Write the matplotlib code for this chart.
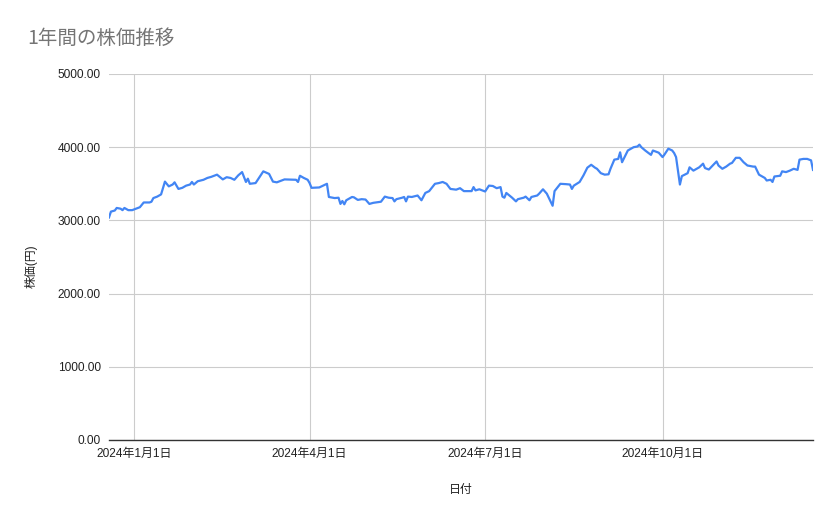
import pandas as pd
import matplotlib
matplotlib.use('Agg')
import matplotlib.pyplot as plt
import matplotlib.dates as mdates
from matplotlib.ticker import FuncFormatter, MultipleLocator

plt.rcParams['font.family'] = ['Liberation Sans', 'Noto Sans CJK JP']

# days counted from 2024-01-01
dayOffsets = [
    -13, -12, -10, -9, -7, -6, -5, -3, -1, 1, 3, 5, 8, 9, 10, 12, 14, 16, 18, 20,
    21, 23, 25, 27, 29, 30, 31, 33, 36, 38, 40, 43, 46, 48, 50, 52, 54, 56, 58, 59,
    60, 63, 65, 67, 70, 72, 74, 78, 84, 85, 86, 88, 90, 91, 92, 96, 98, 100, 101, 104,
    106, 107, 108, 109, 110, 113, 114, 116, 118, 120, 122, 124, 128, 130, 132, 134, 135, 136, 139, 140,
    141, 142, 144, 147, 149, 151, 153, 156, 158, 160, 162, 164, 167, 169, 171, 173, 175, 176, 177, 179,
    182, 184, 186, 188, 190, 191, 192, 193, 196, 198, 199, 202, 203, 205, 206, 209, 210, 212, 214, 217,
    218, 221, 224, 226, 227, 228, 231, 233, 235, 237, 239, 240, 242, 244, 246, 247, 249, 251, 252, 253,
    255, 256, 259, 261, 262, 263, 265, 268, 269, 272, 274, 275, 277, 279, 280, 281, 283, 284, 287, 288,
    290, 293, 295, 296, 298, 300, 302, 303, 305, 307, 309, 310, 312, 314, 316, 318, 321, 322, 324, 327,
    328, 330, 331, 332, 335, 336, 338, 340, 342, 344, 345, 347, 349, 351, 352,
]
prices = [
    3040, 3120, 3135, 3170, 3160, 3140, 3170, 3140, 3140, 3160, 3180, 3245, 3245, 3255, 3305, 3325, 3355, 3530, 3465, 3490,
    3520, 3430, 3445, 3475, 3490, 3525, 3490, 3535, 3555, 3580, 3595, 3625, 3560, 3590, 3580, 3555, 3615, 3660, 3525, 3570,
    3500, 3510, 3590, 3670, 3635, 3530, 3520, 3560, 3555, 3525, 3610, 3580, 3555, 3510, 3445, 3450, 3475, 3500, 3320, 3305,
    3310, 3225, 3265, 3220, 3275, 3320, 3315, 3280, 3290, 3285, 3225, 3240, 3255, 3325, 3310, 3305, 3260, 3290, 3310, 3320,
    3260, 3325, 3320, 3340, 3275, 3375, 3400, 3500, 3510, 3525, 3500, 3430, 3420, 3440, 3400, 3400, 3400, 3455, 3410, 3425,
    3395, 3475, 3470, 3440, 3455, 3325, 3310, 3375, 3310, 3260, 3290, 3310, 3325, 3275, 3320, 3340, 3365, 3425, 3365, 3200,
    3400, 3500, 3495, 3490, 3430, 3475, 3525, 3615, 3720, 3760, 3720, 3705, 3645, 3625, 3630, 3705, 3830, 3840, 3930, 3795,
    3900, 3955, 4000, 4010, 4035, 4000, 3955, 3895, 3955, 3925, 3865, 3900, 3980, 3955, 3920, 3865, 3490, 3605, 3645, 3725,
    3680, 3725, 3775, 3715, 3695, 3750, 3805, 3750, 3705, 3735, 3775, 3785, 3855, 3855, 3795, 3750, 3735, 3735, 3625, 3580,
    3545, 3555, 3525, 3600, 3610, 3670, 3660, 3680, 3705, 3690, 3830, 3840, 3840, 3820, 3690,
]
tickDates = ['2024-01-01', '2024-04-01', '2024-07-01', '2024-10-01']
yTicks = [0, 1000, 2000, 3000, 4000, 5000]

dates = pd.Timestamp('2024-01-01') + pd.to_timedelta(dayOffsets, unit='D')
ticks = pd.to_datetime(tickDates)

fig = plt.figure(figsize=(8.39, 5.19), dpi=100)
ax = fig.add_axes([109 / 839, 1 - 440 / 519, (813 - 109) / 839, (440 - 74) / 519])

ax.plot(dates, prices, color='#4285f4', linewidth=1.6, solid_joinstyle='round')

ax.set_xlim(dates[0], dates[-1])
ax.set_ylim(0, 5000)
ax.set_yticks(yTicks)
ax.yaxis.set_major_formatter(FuncFormatter(lambda v, p: f'{v:.2f}'))
ax.set_xticks(ticks)
ax.set_xticklabels([f'{d.year}年{d.month}月{d.day}日' for d in ticks])

ax.grid(True, color='#cccccc', linewidth=0.8)
ax.set_axisbelow(True)
for s in ['top', 'right', 'left']:
    ax.spines[s].set_visible(False)
ax.spines['bottom'].set_color('#333333')
ax.spines['bottom'].set_linewidth(1.0)
ax.spines['bottom'].set_zorder(3)
ax.tick_params(axis='both', length=0, labelsize=8.6, labelcolor='#222222')
ax.tick_params(axis='y', pad=6)
ax.tick_params(axis='x', pad=6)

ax.set_xlabel('日付', fontsize=8.6, color='#222222', labelpad=17)
ax.set_ylabel('株価(円)', fontsize=8.6, color='#222222')
ax.yaxis.set_label_coords(-0.101, 0.475)

fig.text(27 / 839, 1 - 38 / 519, '1年間の株価推移', fontsize=14, color='#757575',
         ha='left', va='center', family=['Noto Sans CJK JP', 'DejaVu Sans'])

fig.savefig('out.png', dpi=100)
